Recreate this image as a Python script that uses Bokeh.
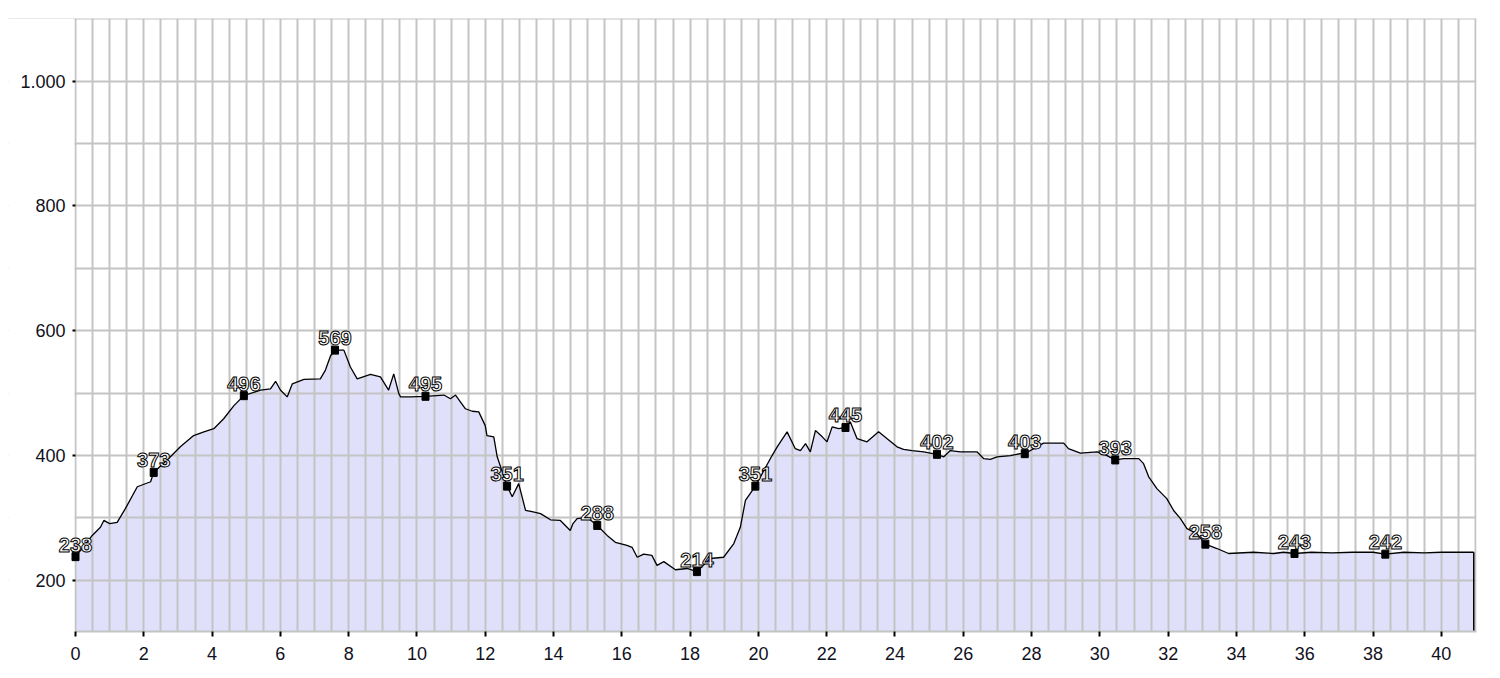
from bokeh.plotting import figure
from bokeh.models import ColumnDataSource, FixedTicker, Label
from bokeh.embed import file_html
from bokeh.resources import INLINE
import numpy as np

# distance (km) and elevation (m)
km = [0, 0.25, 0.49, 0.73, 0.83, 1.0, 1.22, 1.46, 1.81, 2.2, 2.29, 2.78, 3.07, 3.46, 3.76, 4.05,
      4.34, 4.64, 4.93, 5.42, 5.71, 5.86, 6.0, 6.2, 6.35, 6.69, 7.17, 7.32, 7.47, 7.6, 7.86,
      8.05, 8.25, 8.64, 8.93, 9.17, 9.32, 9.47, 9.52, 9.81, 10.25, 10.79, 10.98, 11.13, 11.42,
      11.62, 11.81, 12.0, 12.05, 12.25, 12.35, 12.64, 12.79, 12.98, 13.18, 13.37, 13.62, 13.91,
      14.2, 14.49, 14.57, 14.69, 14.98, 15.28, 15.57, 15.81, 16.15, 16.3, 16.45, 16.64, 16.88,
      17.03, 17.23, 17.57, 17.91, 18.2, 18.59, 18.98, 19.28, 19.47, 19.62, 19.91, 20.16, 20.4,
      20.55, 20.84, 21.08, 21.23, 21.38, 21.52, 21.67, 21.87, 22.01, 22.16, 22.35, 22.55, 22.69,
      22.89, 23.18, 23.52, 23.77, 24.06, 24.25, 24.5, 24.84, 25.23, 25.43, 25.62, 25.91, 26.4,
      26.6, 26.79, 26.99, 27.38, 27.67, 27.8, 28.06, 28.35, 28.94, 29.08, 29.43, 29.92, 30.21,
      30.45, 30.7, 31.14, 31.28, 31.43, 31.67, 31.96, 32.16, 32.36, 32.55, 32.84, 33.09, 33.43,
      33.77, 34.5, 35.09, 35.38, 35.7, 36.2, 36.8, 37.4, 38.0, 38.36, 38.9, 39.5, 40.0, 40.5, 40.95]
elev = [238, 255, 272, 285, 296, 291, 293, 315, 350, 358, 373, 398, 414, 432, 438, 443,
        459, 480, 496, 505, 507, 519, 505, 494, 515, 522, 523, 537, 560, 569, 569,
        542, 523, 530, 526, 505, 531, 499, 494, 494, 495, 497, 491, 497, 475,
        471, 470, 448, 432, 430, 398, 351, 334, 355, 312, 310, 307, 297,
        296, 280, 291, 299, 301, 288, 272, 261, 256, 253, 237, 242, 240,
        224, 230, 217, 219, 214, 235, 237, 259, 285, 328, 351, 376, 400,
        414, 438, 411, 408, 419, 406, 440, 430, 422, 446, 443, 445, 454,
        427, 422, 438, 427, 414, 410, 408, 406, 402, 398, 408, 406, 406,
        395, 394, 398, 400, 403, 403, 411, 420, 420, 411, 404, 406, 400,
        393, 395, 395, 387, 366, 347, 331, 312, 299, 283, 275, 258, 251,
        243, 245, 243, 245, 243, 245, 244, 245, 245, 242, 245, 244, 245, 245, 245]

# labelled points
mark_km = [0, 2.29, 4.93, 7.6, 10.25, 12.64, 15.28, 18.2, 19.91, 22.55, 25.23, 27.8, 30.45,
           33.09, 35.7, 38.36]
mark_elev = [238, 373, 496, 569, 495, 351, 288, 214, 351, 445, 402, 403, 393, 258, 243, 242]

x_ticks = list(range(0, 41, 2))
y_ticks = [200, 400, 600, 800, 1000]
y_tick_labels = {200: "200", 400: "400", 600: "600", 800: "800", 1000: "1.000"}

# layout (pixels): visible chart box from x=75 to 1476, frame extended left to 8 so that
# labels at km 0 are not clipped
BOX_LEFT, BOX_RIGHT, FRAME_LEFT = 75, 1476, 8
Y_START, Y_END = 118, 1100.5
X_END = 41.03
X_START = -X_END * (BOX_LEFT - FRAME_LEFT) / (BOX_RIGHT - BOX_LEFT)
GRID = "#c4c4c4"

p = figure(width=1492, height=668, output_backend="svg", toolbar_location=None,
           x_range=(X_START, X_END), y_range=(Y_START, Y_END),
           min_border_left=FRAME_LEFT, min_border_right=16, min_border_top=18,
           min_border_bottom=37)
p.background_fill_color = "white"
p.border_fill_color = "white"
p.outline_line_color = None

src = ColumnDataSource(dict(km=km, elev=elev))
p.varea(x="km", y1=Y_START, y2="elev", source=src, fill_color="#e0e0fa", level="image")
# white mask left of km 0 (covers horizontal grid lines there)
p.quad(left=X_START, right=-0.03, bottom=Y_START, top=Y_END, fill_color="white", line_color=None)
p.line(x="km", y="elev", source=src, line_color="black", line_width=1.3)
p.segment(x0=[km[-1]], y0=[elev[-1]], x1=[km[-1]], y1=[Y_START], line_color="black", line_width=1.5)

# grid
p.xgrid.ticker = FixedTicker(ticks=list(np.arange(0, 41.01, 0.5)) + [X_END])
p.ygrid.ticker = FixedTicker(ticks=list(range(100, 1101, 100)))
for g in (p.xgrid, p.ygrid):
    g.grid_line_color = GRID
    g.grid_line_width = 2

# axes
for ax in (p.xaxis, p.yaxis):
    ax.major_tick_line_color = "black"
    ax.major_tick_line_width = 2
    ax.major_tick_in = 0
    ax.minor_tick_line_color = None
    ax.major_label_text_font = "Liberation Sans"
    ax.major_label_text_font_size = "18px"
    ax.major_label_text_color = "#111122"
p.xaxis.ticker = FixedTicker(ticks=x_ticks)
p.xaxis.bounds = (0, X_END)
p.xaxis.axis_line_color = GRID
p.xaxis.axis_line_width = 2
p.xaxis.major_tick_out = 5
p.xaxis.major_label_standoff = 10
p.yaxis.ticker = FixedTicker(ticks=y_ticks)
p.yaxis.major_label_overrides = y_tick_labels
p.yaxis.fixed_location = 0
p.yaxis.axis_line_color = None
p.yaxis.major_tick_out = 3
p.yaxis.major_label_standoff = 7

# markers and labels
msrc = ColumnDataSource(dict(km=mark_km, elev=mark_elev))
p.rect(x="km", y="elev", width=7, height=8, width_units="screen", height_units="screen",
       source=msrc, fill_color="black", line_color="black")
for xv, yv in zip(mark_km, mark_elev):
    p.add_layout(Label(x=xv, y=yv, text=str(yv), text_align="center", text_baseline="bottom",
                       y_offset=5, text_font="Liberation Sans", text_font_size="20px",
                       text_font_style="bold", text_color="white", text_outline_color="black"))

open("out.html", "w").write(file_html(p, INLINE))
